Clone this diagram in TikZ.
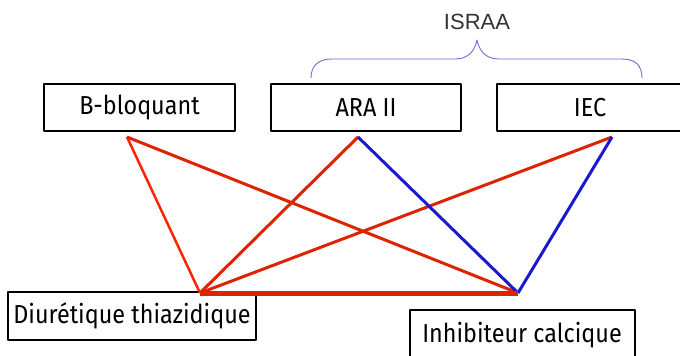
\documentclass[tikz,border=0pt]{standalone}
\usepackage{fontspec}
\usepackage{graphicx}
\setmainfont{Fira Sans}
\newfontfamily\israafont{Liberation Sans}
\usetikzlibrary{calc}
\definecolor{linkred}{RGB}{221,36,0}
\definecolor{brightred}{RGB}{255,36,0}
\definecolor{linkblue}{RGB}{26,26,204}
\definecolor{bracecol}{RGB}{110,110,215}
\newcommand{\sq}[1]{\scalebox{0.9}[1]{#1}}
\newcommand{\boxfont}{\fontsize{26}{28}\selectfont}

\begin{document}
\begin{tikzpicture}[x=1pt,y=-1pt,line join=round]
\tikzset{drug/.style={draw,line width=2pt,minimum height=47pt,inner sep=0pt,font=\boxfont},
  redlink/.style={linkred,line width=3pt},
  bluelink/.style={linkblue,line width=3pt}}
\useasboundingbox[fill=white] (0,0) rectangle (680,356);
% top row
\node[drug,minimum width=191pt] (bloq) at (139.5,107.5) {\sq{B-bloquant}};
\node[drug,minimum width=190pt] (ara) at (366,107.5) {\sq{ARA II}};
\node[drug,minimum width=186pt] (iec) at (590,107.5) {\sq{IEC}};
% bottom row
\node[drug,minimum width=248pt,minimum height=48pt] (diur) at (132,316) {\sq{Diurétique thiazidique}};
\node[drug,minimum width=225pt,minimum height=50pt] (inhib) at (522,335) {\sq{Inhibiteur calcique}};
% ISRAA brace
\node[font=\israafont\fontsize{22}{24}\selectfont,color=black!80] (israa) at (477,22) {ISRAA};
\draw[bracecol,line width=0.9pt] (311,78) .. controls (311,66) and (318,59) .. (332,59)
  -- (455,59) .. controls (469,59) and (475,50) .. (477,40)
  .. controls (479,50) and (485,59) .. (499,59) -- (622,59)
  .. controls (636,59) and (642,66) .. (642,78);
% link points
\coordinate (b) at (127,137);
\coordinate (a) at (358,137);
\coordinate (e) at (612,137);
\coordinate (d) at (200,293);
\coordinate (i) at (518,293);
\draw[brightred,line width=2.5pt] (b) -- (d);
\draw[redlink] (b) -- (i);
\draw[redlink] (a) -- (d);
\draw[redlink] (e) -- (d);
\draw[bluelink] (a) -- (i);
\draw[bluelink] (e) -- (i);
\draw[linkred,line width=5pt] (d) -- (i);
\end{tikzpicture}
\end{document}
